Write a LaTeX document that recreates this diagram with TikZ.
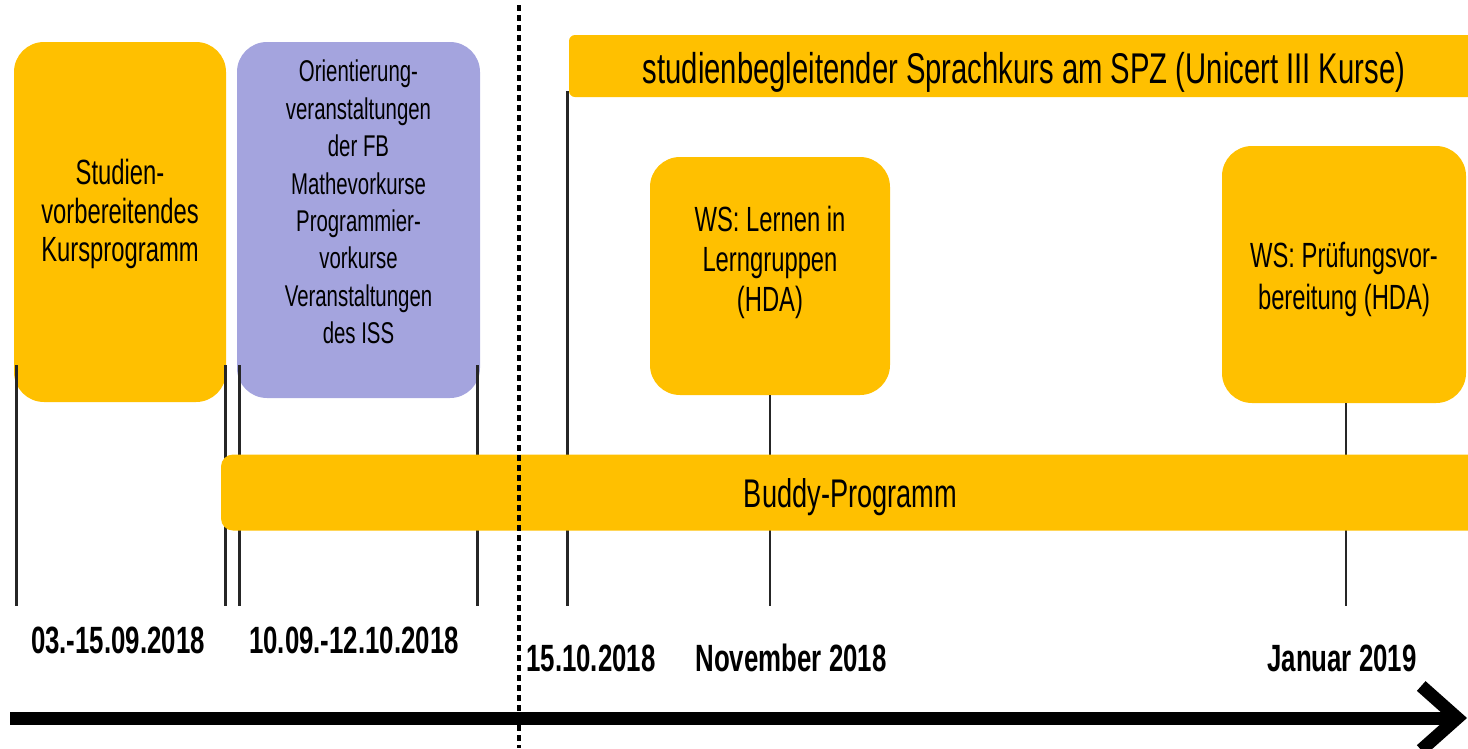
\documentclass[tikz,border=0pt]{standalone}
\usepackage{fontspec}
\setmainfont[FakeStretch=0.68]{Liberation Sans}
\usetikzlibrary{arrows.meta}
\definecolor{gold}{RGB}{255,192,0}
\definecolor{lavender}{RGB}{164,164,222}

\begin{document}
\begin{tikzpicture}[x=1pt,y=-1pt,
box/.style = {fill=gold, draw=none, rounded corners=30pt, inner sep=0pt},
boxtext/.style = {align=center, inner sep=0pt, font=\fontsize{35}{40}\selectfont},
bar/.style = {fill=gold, inner sep=0pt, align=center},
tick/.style = {line width=2.5pt, black!85},
date/.style = {inner sep=0pt, font=\fontsize{38}{40}\selectfont\bfseries},
    thick
                        ]
\useasboundingbox (0,0) rectangle (1468,748);

\coordinate (tickend) at (0,606);
\coordinate (sepA) at (519,5);
\coordinate (sepB) at (519,748);
\coordinate (axisA) at (10,718);
\coordinate (axisB) at (1467,718);

\node[box, minimum width=212pt, minimum height=360pt,
  label={[boxtext, yshift=8pt, font=\fontsize{35}{38.5}\selectfont]center:Studien-\\vorbereitendes\\Kursprogramm}]
  (prep) at (120,222) {};
\node[box, fill=lavender, minimum width=243pt, minimum height=356pt,
  label={[boxtext, yshift=18pt, font=\fontsize{30}{37.4}\selectfont]center:Orientierung-\\veranstaltungen\\der FB\\Mathevorkurse\\Programmier-\\vorkurse\\Veranstaltungen\\des ISS}]
  (orient) at (358.5,220) {};
\node[box, minimum width=240pt, minimum height=238pt,
  label={[boxtext, yshift=14pt]center:WS: Lernen in\\Lerngruppen\\(HDA)}]
  (lern) at (770,276) {};
\node[box, minimum width=244pt, minimum height=257pt,
  label={[boxtext, yshift=-5pt, font=\fontsize{35}{42}\selectfont]center:WS: Prüfungsvor-\\bereitung (HDA)}]
  (pruef) at (1344,274.5) {};

\draw[tick] ([xshift=3pt,yshift=37pt]prep.south west) -- ([xshift=3pt]prep.south west |- tickend);
\draw[tick] ([xshift=-1pt,yshift=37pt]prep.south east) -- ([xshift=-1pt]prep.south east |- tickend);
\draw[tick] ([xshift=3pt,yshift=33pt]orient.south west) -- ([xshift=3pt]orient.south west |- tickend);
\draw[tick] ([xshift=-3pt,yshift=33pt]orient.south east) -- ([xshift=-3pt]orient.south east |- tickend);
\draw[tick] (lern.south) -- (lern.south |- tickend);
\draw[tick] ([xshift=2pt]pruef.south) -- ([xshift=2pt]pruef.south |- tickend);

\node[bar, rounded corners=6pt, minimum width=910pt, minimum height=62pt,
  text height=43pt, text depth=9pt,
  font=\fontsize{43}{45}\selectfont] (spz) at (1024,66)
  {studienbegleitender Sprachkurs am SPZ (Unicert III Kurse)};
\draw[tick] ([xshift=-1pt,yshift=6pt]spz.south west) -- ([xshift=-1pt]spz.south west |- tickend);

\node[bar, rounded corners=12pt, minimum width=1259pt, minimum height=76pt,
  text height=39pt, text depth=8.4pt,
  font=\fontsize{40}{42}\selectfont] (buddy) at (850.5,492.5) {Buddy-Programm};

\node[date] (d1) at (118,640) {03.-15.09.2018};
\node[date] (d2) at (354,640) {10.09.-12.10.2018};
\node[date] (d3) at (591,658) {15.10.2018};
\node[date] (d4) at (791,658) {November 2018};
\node[date] (d5) at (1342,658) {Januar 2019};

\draw[line width=13pt, -{Straight Barb[length=36pt,width=64pt]}] (axisA) -- (axisB);
\draw[line width=4pt, dash pattern=on 6pt off 4pt] (sepA) -- (sepB);

\end{tikzpicture}
\end{document}
